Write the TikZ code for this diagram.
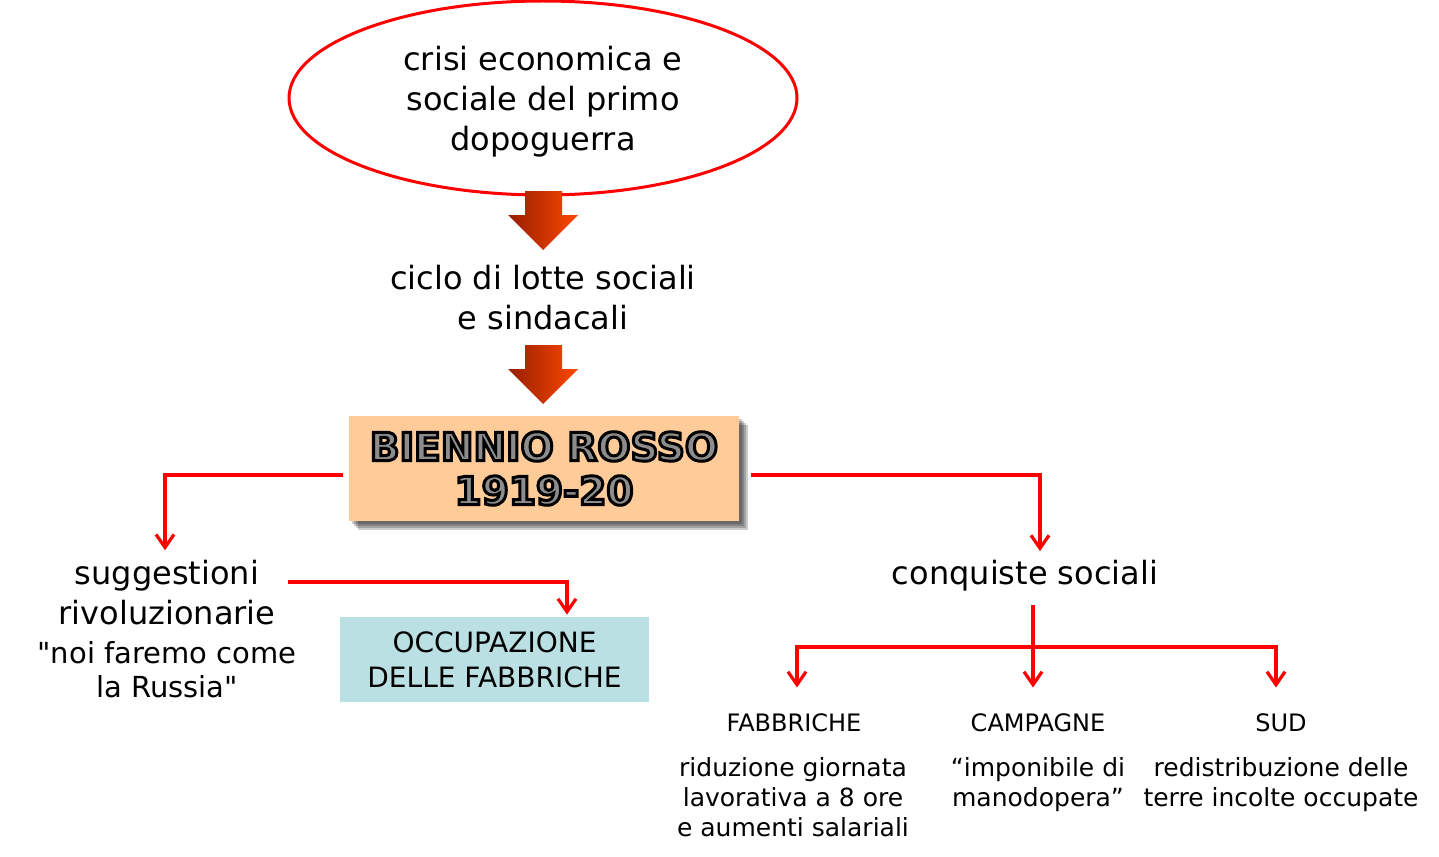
\documentclass[tikz,border=0pt]{standalone}
\usepackage{fontspec}
\setmainfont{DejaVu Sans}
\usetikzlibrary{arrows.meta,positioning,shapes.geometric,shadows}
\definecolor{PeachBox}{RGB}{255,204,153}
\definecolor{TealBox}{RGB}{187,224,227}
\definecolor{ArrowDark}{RGB}{150,30,0}
\definecolor{ArrowLight}{RGB}{255,72,0}
\definecolor{TitleGray}{RGB}{140,140,140}
\newcommand\txtbig{\fontsize{16pt}{20pt}\selectfont}
\newcommand\txtquote{\fontsize{14.5pt}{17pt}\selectfont}
\newcommand\txtbox{\fontsize{14pt}{17.5pt}\selectfont}
\newcommand\txtsmall{\fontsize{12.5pt}{15pt}\selectfont}
\newcommand\txthead{\fontsize{12pt}{15pt}\selectfont}
\newcommand\txttitle{\fontsize{19.5pt}{22pt}\selectfont\bfseries}
% testo grigio con contorno nero
\newcommand\outlined[1]{\special{pdf:literal direct 0 G 1.5 w 2 Tr}#1\special{pdf:literal direct 0 Tr}}
\tikzset{
  cause/.style={ellipse,draw=red,line width=1.5pt,minimum width=254pt,
    minimum height=97pt,inner sep=0pt,align=center,font=\txtbig,text depth=0pt},
  plaintext/.style={inner sep=0pt,align=center,font=\txtbig},
  quotetext/.style={inner sep=0pt,align=center,font=\txtquote},
  header/.style={inner sep=0pt,font=\txthead},
  detail/.style={inner sep=0pt,align=center,font=\txtsmall},
  softshadow/.style={shadow xshift=#1,shadow yshift=-#1,fill=black,opacity=0.2},
  keybox/.style={rectangle,fill=PeachBox,minimum width=195pt,
    minimum height=52.5pt,align=center,font=\txttitle,text=TitleGray,
    drop shadow={softshadow=4.5pt},
    drop shadow={softshadow=3.5pt},
    drop shadow={softshadow=2.5pt},
    drop shadow={softshadow=1.5pt}},
  factbox/.style={rectangle,fill=TealBox,minimum width=154.5pt,
    minimum height=42.5pt,align=center,font=\txtbox},
  link/.style={-{Straight Barb[length=6.5pt,width=9pt]},line width=1.6pt,red},
  bigarrow/.pic={\shade[left color=ArrowDark,right color=ArrowLight]
    (-18,0) -- (19,0) -- (19,24) -- (35,24) -- (0,59) -- (-35,24) -- (-18,24) -- cycle;}
}
\begin{document}
\begin{tikzpicture}[x=0.5pt,y=-0.5pt]
  \useasboundingbox (0,0) rectangle (1439,856);
  \node[cause] (crisi) at (543,98) {crisi economica e\\sociale del primo\\dopoguerra};
  \node[plaintext] (ciclo) at (543,297.5) {ciclo di lotte sociali\\e sindacali};
  \node[keybox] (biennio) at (544,468.5) {\outlined{BIENNIO ROSSO}\\\outlined{1919-20}};
  \pic at (543,191) {bigarrow};
  \pic at (543,345) {bigarrow};
  \node[plaintext] (sugg) at (167,593) {suggestioni\\rivoluzionarie};
  \node[quotetext] (noi) at (167,670) {\textquotedbl noi faremo come\\la Russia\textquotedbl};
  \node[factbox] (occup) at (494.5,659.5) {OCCUPAZIONE\\DELLE FABBRICHE};
  \node[plaintext] (conq) at (1025,576) {conquiste sociali};
  \node[header] (fabb) at (794,723) {FABBRICHE};
  \node[header] (camp) at (1038,723) {CAMPAGNE};
  \node[header] (sud) at (1281,723) {SUD};
  \node[detail] (ore) at (793,797) {riduzione giornata\\lavorativa a 8 ore\\e aumenti salariali};
  \node[detail] (impon) at (1038,785) {“imponibile di\\manodopera”};
  \node[detail] (terre) at (1281,785) {redistribuzione delle\\terre incolte occupate};
  % connettori
  \draw[link,shorten >=5pt] ([xshift=-3pt,yshift=-3.25pt]biennio.west) -| ([xshift=-1pt]sugg.north);
  \draw[link,shorten >=4.5pt] ([xshift=6pt,yshift=-3.25pt]biennio.east) -| ([xshift=7.5pt]conq.north);
  \draw[link,shorten >=1pt] ([xshift=6pt,yshift=5.5pt]sugg.east) -| ([xshift=36.25pt]occup.north);
  \coordinate (hub) at (1033,647);
  \draw[link,shorten <=6.5pt,shorten >=13pt] (hub |- conq.south) -- (hub |- camp.north);
  \draw[link,shorten >=13pt] (hub) -| ([xshift=1.5pt]fabb.north);
  \draw[link,shorten >=13pt] (hub) -| ([xshift=-2.5pt]sud.north);
\end{tikzpicture}
\end{document}
